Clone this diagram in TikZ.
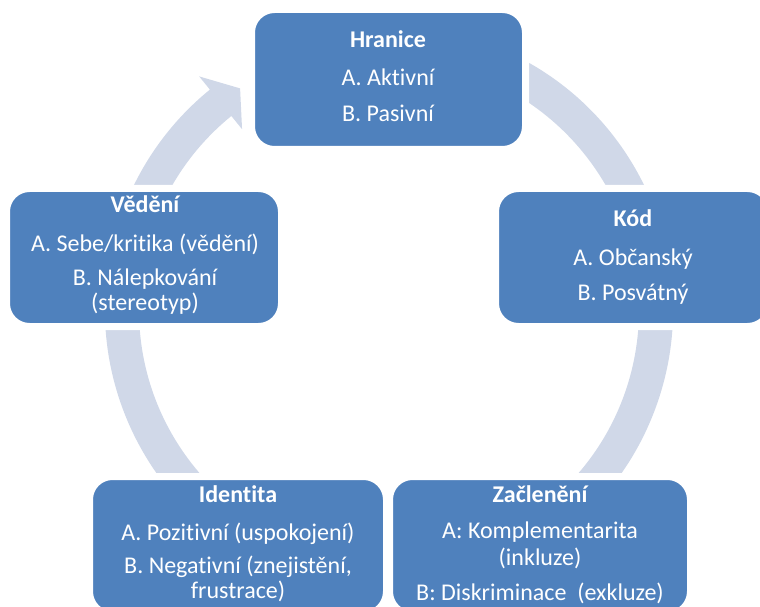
\documentclass[tikz,border=0pt]{standalone}
\usepackage{fontspec}
\setmainfont{Carlito}[Ligatures=NoCommon]
\definecolor{boxblue}{RGB}{79,129,189}
\definecolor{ringblue}{RGB}{208,216,232}
\tikzset{
  font=\fontsize{24}{28}\selectfont,
  box/.style = {
    rectangle,
    rounded corners=23pt,
    fill=boxblue,
    draw=white,
    line width=7pt,
    inner sep=0pt
  },
  line/.style = {
    anchor=base,
    text=white,
    inner sep=0pt
  },
  title/.style = {
    line,
    font=\fontsize{24}{28}\selectfont\bfseries
  }
}

\begin{document}
\begin{tikzpicture}[x=1pt,y=1pt]

      \clip (0,0) rectangle (760,606);

      % ring with one arrowhead, behind the boxes
      \begin{scope}[shift={(389,296)}]
        \fill[ringblue] (70:284) arc[start angle=70, end angle=-230.9, radius=284]
          -- (-230.9:301) -- (-236.1:267) -- (-230.9:233) -- (-230.9:250)
          arc[start angle=-230.9, end angle=70, radius=250] -- cycle;
      \end{scope}

      \node[box, minimum width=274pt, minimum height=140pt] (hranice) at (388.5,526.5) {};
      \node[box, minimum width=275pt, minimum height=138pt] (kod) at (633,348.5) {};
      \node[box, minimum width=301pt, minimum height=138pt] (zacleneni) at (540,60.5) {};
      \node[box, minimum width=297pt, minimum height=138pt] (identita) at (238,60.5) {};
      \node[box, minimum width=275pt, minimum height=138pt] (vedeni) at (144,348.5) {};

      \node[title] (hranice-t) at (388,558) {Hranice};
      \node[line] (hranice-a) at (388,520) {A. Aktivní};
      \node[line] (hranice-b) at (388,484) {B. Pasivní};

      \node[title] (kod-t) at (633,379) {Kód};
      \node[line] (kod-a) at (633,341) {A. Občanský};
      \node[line] (kod-b) at (633,306) {B. Posvátný};

      \node[title] (zacleneni-t) at (540,104) {Začlenění};
      \node[line] (zacleneni-a) at (540,68) {A: Komplementarita};
      \node[line] (zacleneni-a2) at (540,41) {(inkluze)};
      \node[line] (zacleneni-b) at (540,6) {B: Diskriminace\ \ (exkluze)};

      \node[title] (identita-t) at (238,104) {Identita};
      \node[line] (identita-a) at (238,66) {A. Pozitivní (uspokojení)};
      \node[line] (identita-b) at (238,33) {B. Negativní (znejistění,};
      \node[line] (identita-b2) at (238,8) {frustrace)};

      \node[title] (vedeni-t) at (145,393) {Vědění};
      \node[line] (vedeni-a) at (145,354) {A. Sebe/kritika (vědění)};
      \node[line] (vedeni-b) at (145,321) {B. Nálepkování};
      \node[line] (vedeni-b2) at (145,296) {(stereotyp)};

    \end{tikzpicture}
\end{document}
